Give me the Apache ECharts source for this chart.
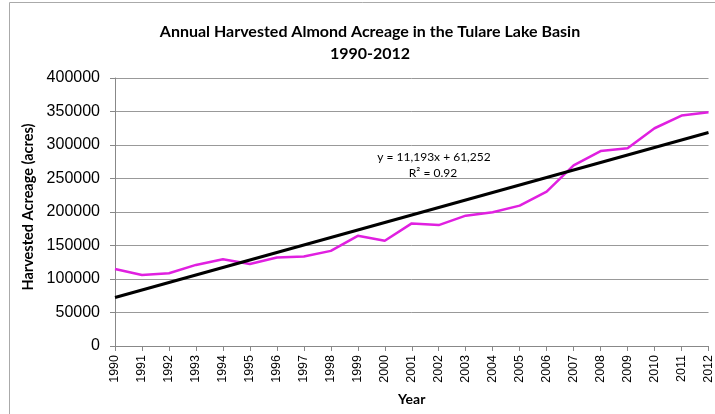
<!DOCTYPE html>
<html>
<head>
<meta charset="utf-8">
<script src="https://cdn.jsdelivr.net/npm/echarts@6/dist/echarts.min.js"></script>
<style>
  html, body { margin: 0; padding: 0; background: #fff; }
  #chart { width: 715px; height: 414px; }
</style>
</head>
<body>
<div id="chart"></div>
<script>
// years on the x axis
const years = ["1990", "1991", "1992", "1993", "1994", "1995", "1996", "1997", "1998", "1999", "2000",
  "2001", "2002", "2003", "2004", "2005", "2006", "2007", "2008", "2009", "2010", "2011", "2012"];
// harvested acreage
const acreage = [115000, 106000, 108500, 121000, 129500, 122500, 132000, 133500, 142000, 164500, 157000,
  183000, 180500, 194500, 199500, 209500, 230500, 269500, 291000, 295000, 325000, 344000, 349000];
// linear trend line end points (1990, 2012)
const trendYears = ["1990", "2012"];
const trendValues = [72445, 318691];
const trendLabel = ["y = 11,193x + 61,252", "R² = 0.92"];

const font = "Lato, 'Liberation Sans', sans-serif";

let myChart = echarts.init(document.getElementById("chart"));
myChart.setOption({
  animation: false,
  title: {
    text: "Annual Harvested Almond Acreage in the Tulare Lake Basin\n1990-2012",
    left: 365,
    top: 16,
    textAlign: "center",
    textStyle: {
      fontFamily: font,
      fontWeight: "bold",
      fontSize: 16,
      lineHeight: 22,
      color: "#000",
    },
  },
  grid: {
    left: 115,
    right: 1,
    top: 78,
    bottom: 68,
  },
  xAxis: {
    type: "category",
    data: years,
    boundaryGap: false,
    name: "Year",
    nameLocation: "middle",
    nameGap: 46,
    nameTextStyle: { fontFamily: font, fontWeight: "bold", fontSize: 14, color: "#000" },
    axisLine: { lineStyle: { color: "#888", width: 1 } },
    axisTick: { show: true, length: 5, lineStyle: { color: "#888" } },
    axisLabel: {
      rotate: 90,
      fontFamily: "'Liberation Sans', Arial, sans-serif",
      fontSize: 12.5,
      color: "#000",
      margin: 9,
      interval: 0,
    },
    splitLine: { show: false },
  },
  yAxis: {
    type: "value",
    min: 0,
    max: 400000,
    interval: 50000,
    name: "Harvested Acreage (acres)",
    nameLocation: "middle",
    nameGap: 78,
    nameTextStyle: { fontFamily: font, fontWeight: "bold", fontSize: 14.5, color: "#000", padding: [0, 0, 0, 10] },
    axisLine: { show: true, lineStyle: { color: "#888", width: 1 } },
    axisTick: { show: true, inside: false, length: 5, lineStyle: { color: "#888" } },
    axisLabel: {
      fontFamily: "'Liberation Sans', Arial, sans-serif",
      fontSize: 16,
      color: "#000",
      margin: 15,
      formatter: (v) => String(v),
    },
    splitLine: { show: true, lineStyle: { color: "#999", width: 1 } },
  },
  graphic: [
    {
      type: "rect",
      shape: { x: 9.5, y: 2.5, width: 720, height: 420 },
      style: { fill: "none", stroke: "#aaa", lineWidth: 1 },
      silent: true,
    },
    {
      type: "text",
      x: 434,
      y: 157,
      style: {
        text: trendLabel[0],
        fontFamily: font,
        fontSize: 12,
        fill: "#000",
        align: "center",
        verticalAlign: "middle",
      },
    },
    {
      type: "text",
      x: 433,
      y: 173,
      style: {
        text: trendLabel[1],
        fontFamily: font,
        fontSize: 12,
        fill: "#000",
        align: "center",
        verticalAlign: "middle",
      },
    },
  ],
  series: [
    {
      name: "Acreage",
      type: "line",
      data: acreage,
      showSymbol: false,
      lineStyle: { color: "#e020e0", width: 2.5 },
      z: 2,
    },
    {
      name: "Trend",
      type: "line",
      data: trendYears.map((y, i) => [y, trendValues[i]]),
      showSymbol: false,
      lineStyle: { color: "#000", width: 3 },
      z: 3,
    },
  ],
});
</script>
</body>
</html>
